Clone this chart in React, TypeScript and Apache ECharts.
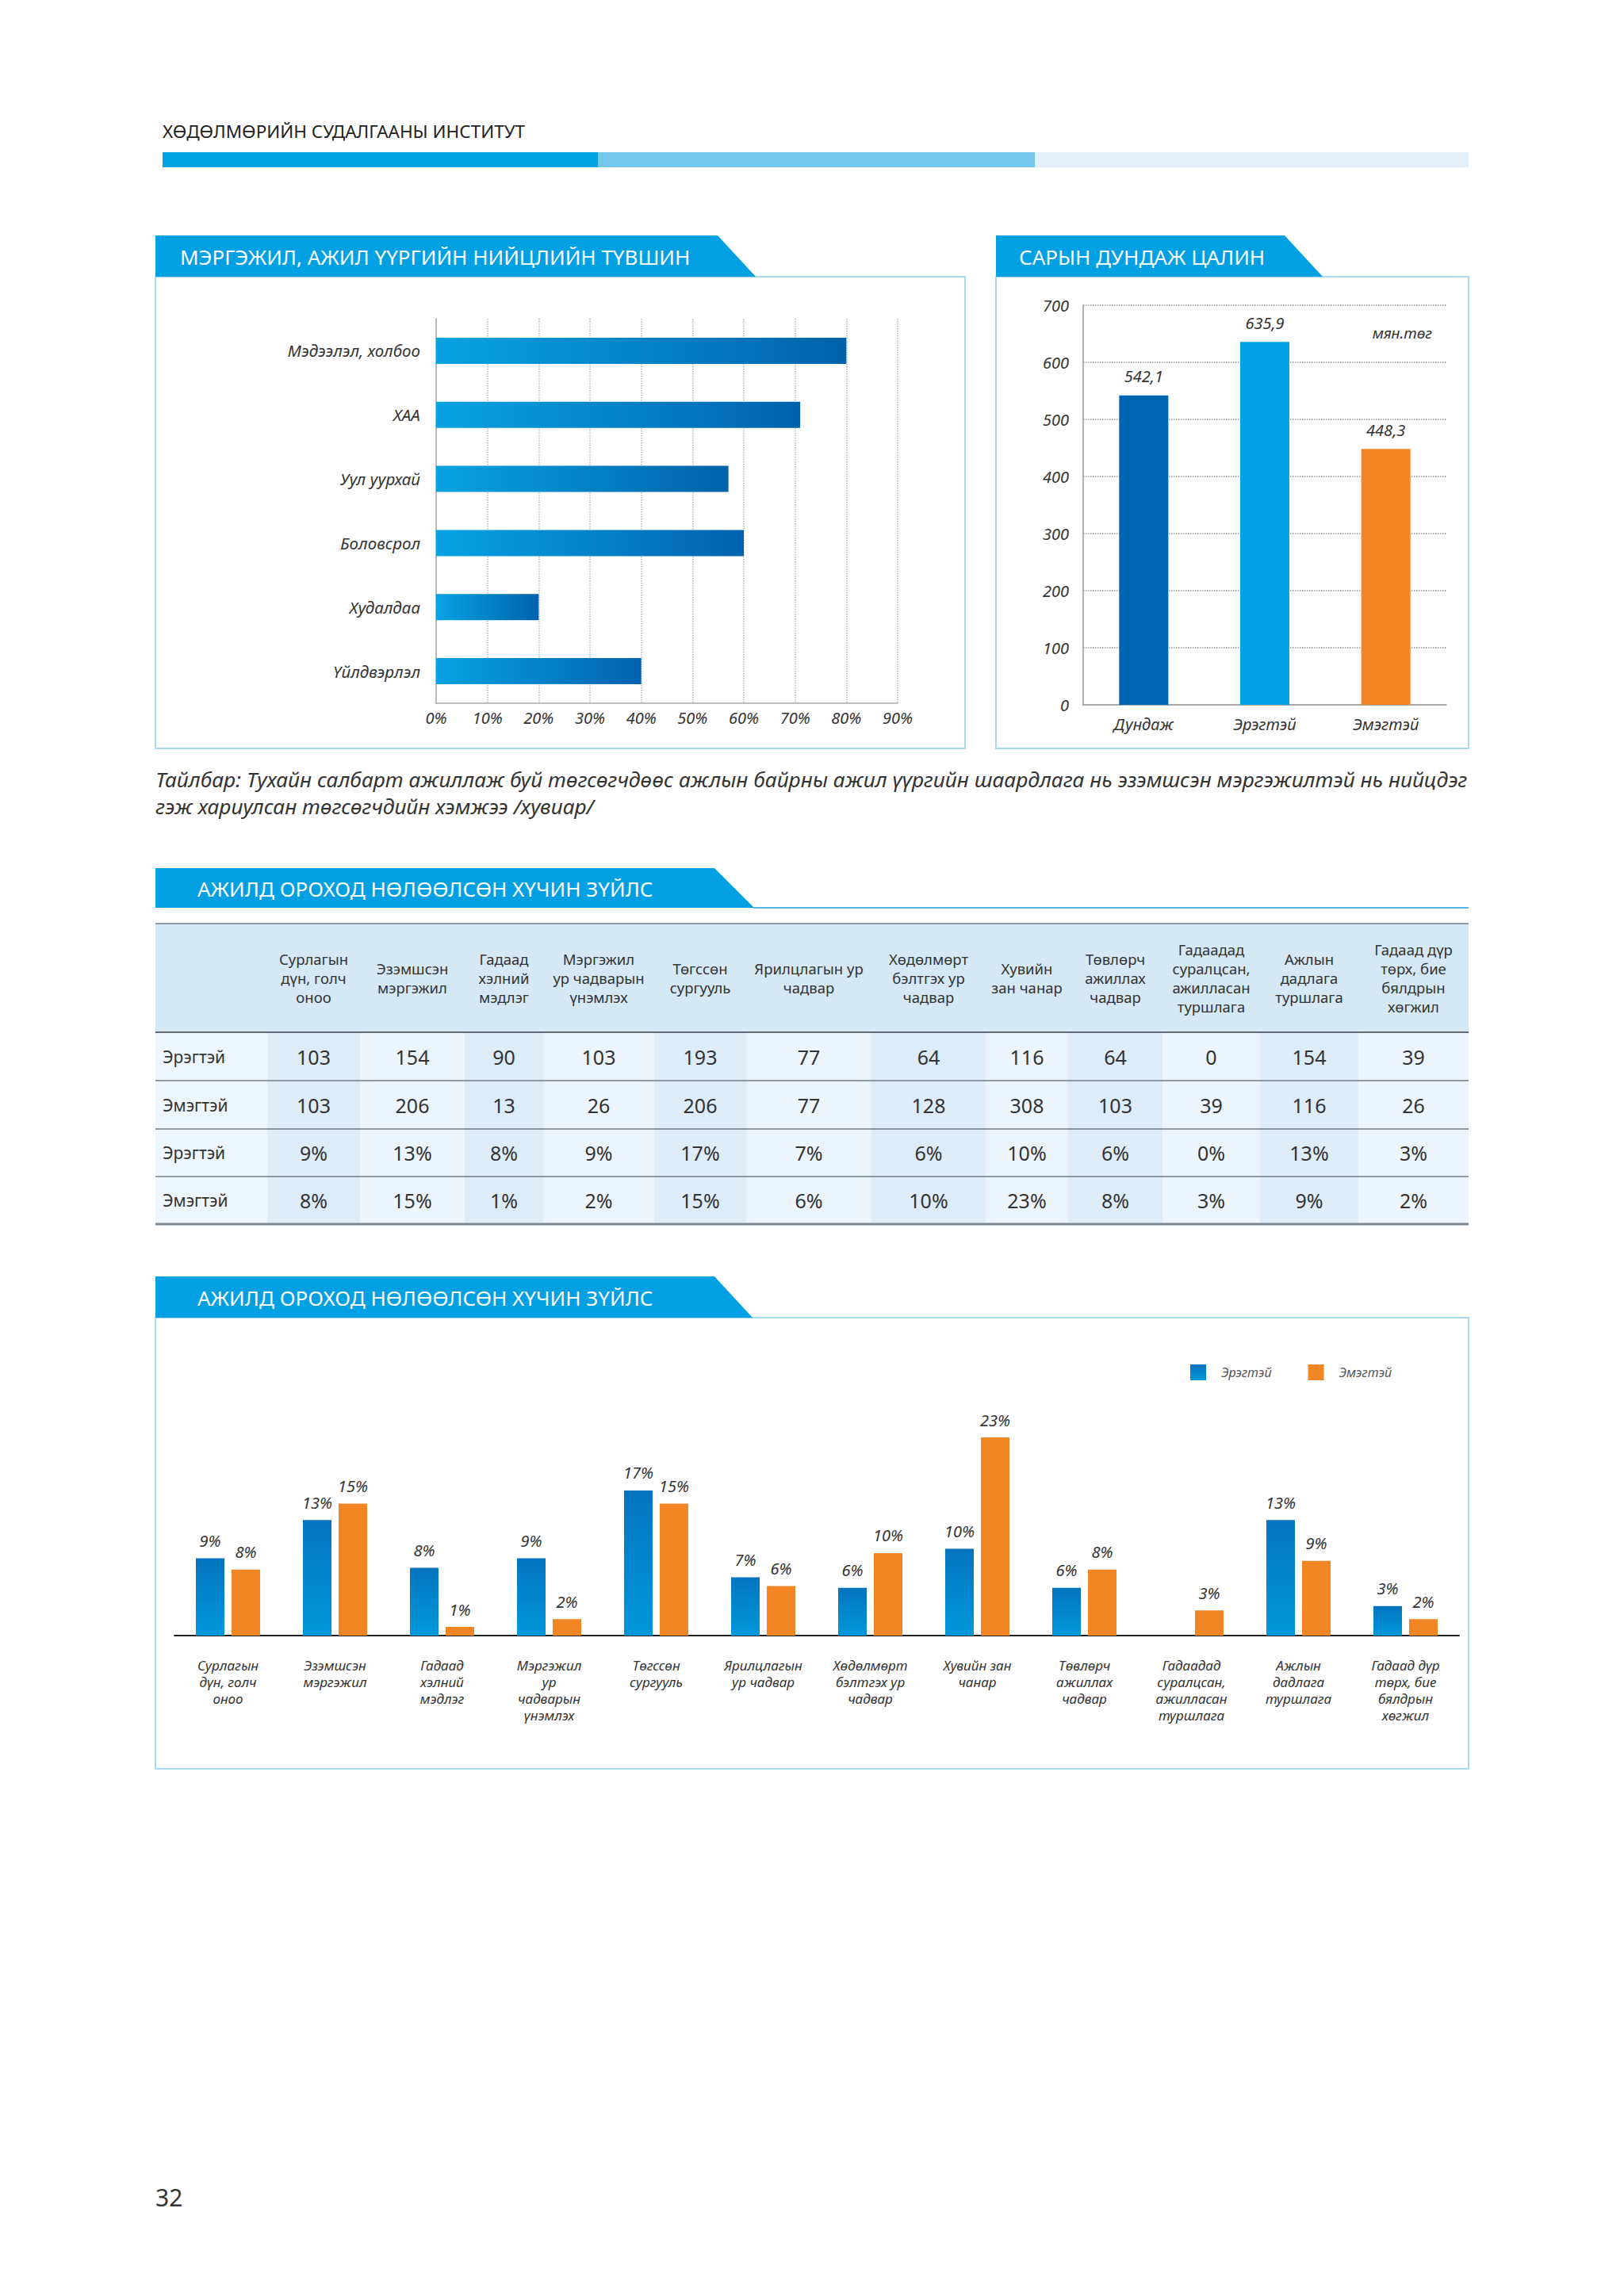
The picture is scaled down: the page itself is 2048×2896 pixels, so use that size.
import React, { useEffect, useRef } from "react";
import * as echarts from "echarts";

const W = 2048;
const H = 2896;
const FONT = '"Noto Sans", "Open Sans", sans-serif';

// ---------- data ----------
const pageHeader = "ХӨДӨЛМӨРИЙН СУДАЛГААНЫ ИНСТИТУТ";
const title1 = "МЭРГЭЖИЛ, АЖИЛ ҮҮРГИЙН НИЙЦЛИЙН ТҮВШИН";
const title2 = "САРЫН ДУНДАЖ ЦАЛИН";
const title3 = "АЖИЛД ОРОХОД НӨЛӨӨЛСӨН ХҮЧИН ЗҮЙЛС";
const footnoteLines = [
  "Тайлбар: Тухайн салбарт ажиллаж буй төгсөгчдөөс ажлын байрны ажил үүргийн шаардлага нь эзэмшсэн мэргэжилтэй нь нийцдэг",
  "гэж хариулсан төгсөгчдийн хэмжээ /хувиар/",
];
const pageNumber = "32";

const sectorCategories = ["Мэдээлэл, холбоо", "ХАА", "Уул уурхай", "Боловсрол", "Худалдаа", "Үйлдвэрлэл"];
const sectorValues = [80, 71, 57, 60, 20, 40];

const wageCategories = ["Дундаж", "Эрэгтэй", "Эмэгтэй"];
const wageValues = [542.1, 635.9, 448.3];
const wageLabels = ["542,1", "635,9", "448,3"];
const wageUnit = "мян.төг";

const tableHeaders = [
  "Сурлагын\nдүн, голч\nоноо",
  "Эзэмшсэн\nмэргэжил",
  "Гадаад\nхэлний\nмэдлэг",
  "Мэргэжил\nур чадварын\nүнэмлэх",
  "Төгссөн\nсургууль",
  "Ярилцлагын ур\nчадвар",
  "Хөдөлмөрт\nбэлтгэх ур\nчадвар",
  "Хувийн\nзан чанар",
  "Төвлөрч\nажиллах\nчадвар",
  "Гадаадад\nсуралцсан,\nажилласан\nтуршлага",
  "Ажлын\nдадлага\nтуршлага",
  "Гадаад дүр\nтөрх, бие\nбялдрын\nхөгжил",
];
const factorAxisLabels = [
  "Сурлагын\nдүн, голч\nоноо",
  "Эзэмшсэн\nмэргэжил",
  "Гадаад\nхэлний\nмэдлэг",
  "Мэргэжил\nур\nчадварын\nүнэмлэх",
  "Төгссөн\nсургууль",
  "Ярилцлагын\nур чадвар",
  "Хөдөлмөрт\nбэлтгэх ур\nчадвар",
  "Хувийн зан\nчанар",
  "Төвлөрч\nажиллах\nчадвар",
  "Гадаадад\nсуралцсан,\nажилласан\nтуршлага",
  "Ажлын\nдадлага\nтуршлага",
  "Гадаад дүр\nтөрх, бие\nбялдрын\nхөгжил",
];
const rowLabels = ["Эрэгтэй", "Эмэгтэй", "Эрэгтэй", "Эмэгтэй"];
const maleCounts = ["103", "154", "90", "103", "193", "77", "64", "116", "64", "0", "154", "39"];
const femaleCounts = ["103", "206", "13", "26", "206", "77", "128", "308", "103", "39", "116", "26"];
const malePctLabels = ["9%", "13%", "8%", "9%", "17%", "7%", "6%", "10%", "6%", "0%", "13%", "3%"];
const femalePctLabels = ["8%", "15%", "1%", "2%", "15%", "6%", "10%", "23%", "8%", "3%", "9%", "2%"];
const malePct = [8.9, 13.3, 7.8, 8.9, 16.7, 6.7, 5.5, 10.0, 5.5, 0, 13.3, 3.4];
const femalePct = [7.6, 15.2, 1.0, 1.9, 15.2, 5.7, 9.5, 22.8, 7.6, 2.9, 8.6, 1.9];
const legendNames = ["Эрэгтэй", "Эмэгтэй"];

// ---------- layout ----------
const BLUE = "#00a0e3";
const BORDER = "#a9d9ec";
const colBounds = [196, 337, 454, 586, 685, 825, 941, 1099, 1243, 1347, 1466, 1589, 1713, 1852];
const rowBounds = [1165, 1302, 1363, 1424, 1484, 1544];
const shadedCols = [0, 2, 4, 6, 8, 10];

function txt(text: string, x: number, y: number, o: any = {}) {
  return {
    type: "text",
    x,
    y,
    z: 10,
    style: {
      text,
      fill: o.fill || "#333",
      fontFamily: FONT,
      fontSize: o.size || 20,
      fontStyle: o.italic ? "italic" : "normal",
      fontWeight: o.weight || "normal",
      align: o.align || "left",
      verticalAlign: o.valign || "middle",
      lineHeight: o.lineHeight,
    },
  };
}

function banner(x: number, y: number, w: number, h: number, slant: number, label: string, pad: number) {
  return [
    {
      type: "polygon",
      z: 5,
      shape: { points: [[x, y], [x + w, y], [x + w + slant, y + h], [x, y + h]] },
      style: { fill: BLUE },
    },
    txt(label, x + pad, y + h / 2 + 1, { fill: "#fff", size: 26 }),
  ];
}

function buildGraphics() {
  const g: any[] = [];
  // page header
  g.push(txt(pageHeader, 205, 165, { size: 22.5, fill: "#222" }));
  g.push({ type: "rect", shape: { x: 205, y: 192, width: 549, height: 19 }, style: { fill: "#00a3e4" } });
  g.push({ type: "rect", shape: { x: 754, y: 192, width: 551, height: 19 }, style: { fill: "#74c6ec" } });
  g.push({ type: "rect", shape: { x: 1305, y: 192, width: 547, height: 19 }, style: { fill: "#e2eef9" } });

  // panel 1 & 2
  g.push({ type: "rect", shape: { x: 196, y: 349, width: 1021, height: 595 }, style: { fill: "none", stroke: BORDER, lineWidth: 2 } });
  g.push(...banner(196, 297, 709, 52, 48, title1, 31));
  g.push({ type: "rect", shape: { x: 1256, y: 349, width: 596, height: 595 }, style: { fill: "none", stroke: BORDER, lineWidth: 2 } });
  g.push(...banner(1256, 297, 364, 52, 48, title2, 29));
  g.push(txt(wageUnit, 1806, 420, { size: 19, italic: true, align: "right" }));

  // footnote
  footnoteLines.forEach((l, i) => g.push(txt(l, 196, 983 + i * 34, { size: 26.3, italic: true, fill: "#333" })));

  // table
  g.push(...banner(196, 1095, 705, 50, 50, title3, 53));
  g.push({ type: "line", shape: { x1: 950, y1: 1145, x2: 1852, y2: 1145 }, style: { stroke: "#55b8e6", lineWidth: 2 } });
  g.push({ type: "rect", shape: { x: 196, y: rowBounds[0], width: 1656, height: rowBounds[1] - rowBounds[0] }, style: { fill: "#d4e8f6" } });
  for (let c = 0; c < colBounds.length - 1; c++) {
    const dataCol = c - 1;
    const fill = c === 0 ? "#eef6fd" : shadedCols.includes(dataCol) ? "#dcecf9" : "#ecf5fc";
    g.push({
      type: "rect",
      shape: { x: colBounds[c], y: rowBounds[1], width: colBounds[c + 1] - colBounds[c], height: rowBounds[5] - rowBounds[1] },
      style: { fill },
    });
  }
  g.push({ type: "line", shape: { x1: 196, y1: rowBounds[0], x2: 1852, y2: rowBounds[0] }, style: { stroke: "#8f9ba6", lineWidth: 2 } });
  g.push({ type: "line", shape: { x1: 196, y1: rowBounds[1], x2: 1852, y2: rowBounds[1] }, style: { stroke: "#5f6b76", lineWidth: 2 } });
  for (let r = 2; r <= 4; r++) {
    g.push({ type: "line", shape: { x1: 196, y1: rowBounds[r], x2: 1852, y2: rowBounds[r] }, style: { stroke: "#6f7b87", lineWidth: 1.5 } });
  }
  g.push({ type: "line", shape: { x1: 196, y1: rowBounds[5], x2: 1852, y2: rowBounds[5] }, style: { stroke: "#7d8892", lineWidth: 3 } });

  const rows = [maleCounts, femaleCounts, malePctLabels, femalePctLabels];
  tableHeaders.forEach((h, i) => {
    const cx = (colBounds[i + 1] + colBounds[i + 2]) / 2;
    g.push(txt(h, cx, (rowBounds[0] + rowBounds[1]) / 2, { size: 18.5, align: "center", lineHeight: 24 }));
  });
  rows.forEach((row, r) => {
    const cy = (rowBounds[r + 1] + rowBounds[r + 2]) / 2;
    g.push(txt(rowLabels[r], 205, cy, { size: 21 }));
    row.forEach((v, i) => {
      const cx = (colBounds[i + 1] + colBounds[i + 2]) / 2;
      g.push(txt(v, cx, cy, { size: 25, align: "center" }));
    });
  });

  // panel 3
  g.push({ type: "rect", shape: { x: 196, y: 1662, width: 1656, height: 569 }, style: { fill: "none", stroke: BORDER, lineWidth: 2 } });
  g.push(...banner(196, 1610, 705, 52, 48, title3, 53));

  // page number
  g.push(txt(pageNumber, 196, 2771, { size: 30, fill: "#333" }));
  return g;
}

function buildOption(): any {
  const hGrad = new echarts.graphic.LinearGradient(0, 0, 1, 0, [
    { offset: 0, color: "#08a3e2" },
    { offset: 1, color: "#0062ad" },
  ]);
  const maleGrad = new echarts.graphic.LinearGradient(0, 0, 0, 1, [
    { offset: 0, color: "#0574bf" },
    { offset: 1, color: "#0098db" },
  ]);
  const wageColors = ["#0066b3", "#00a1e4", "#f38423"];
  const italic = { fontFamily: FONT, fontStyle: "italic", color: "#333" };

  return {
    animation: false,
    backgroundColor: "#ffffff",
    textStyle: { fontFamily: FONT },
    graphic: { elements: buildGraphics() },
    legend: {
      data: legendNames,
      left: 1501,
      top: 1721,
      padding: 0,
      itemWidth: 20,
      itemHeight: 20,
      itemGap: 46,
      icon: "rect",
      textStyle: { ...italic, fontSize: 16, color: "#555", padding: [0, 0, 0, 14] },
    },
    grid: [
      { left: 550, top: 402, width: 582, height: 485 },
      { left: 1366, top: 385, width: 458, height: 504 },
      { left: 220, top: 1789, width: 1620, height: 274 },
    ],
    xAxis: [
      {
        type: "value",
        gridIndex: 0,
        min: 0,
        max: 90,
        interval: 10,
        axisLine: { show: true, lineStyle: { color: "#aaaaaa", width: 1.5 } },
        axisTick: { show: false },
        axisLabel: { ...italic, fontSize: 20, margin: 8, formatter: "{value}%" },
        splitLine: { show: true, lineStyle: { type: "dotted", color: "#b8b8b8", width: 1.5 } },
      },
      {
        type: "category",
        gridIndex: 1,
        data: wageCategories,
        axisLine: { show: true, lineStyle: { color: "#999999", width: 1.5 } },
        axisTick: { show: false },
        axisLabel: { ...italic, fontSize: 20, margin: 14 },
      },
      {
        type: "category",
        gridIndex: 2,
        data: factorAxisLabels,
        axisLine: { show: true, lineStyle: { color: "#222222", width: 2 } },
        axisTick: { show: false },
        axisLabel: { ...italic, fontSize: 17, lineHeight: 21, margin: 27, interval: 0 },
      },
    ],
    yAxis: [
      {
        type: "category",
        gridIndex: 0,
        data: sectorCategories,
        inverse: true,
        axisLine: { show: true, lineStyle: { color: "#aaaaaa", width: 1.5 } },
        axisTick: { show: false },
        axisLabel: { ...italic, fontSize: 20.5, margin: 20 },
      },
      {
        type: "value",
        gridIndex: 1,
        min: 0,
        max: 700,
        interval: 100,
        axisLine: { show: true, lineStyle: { color: "#999999", width: 1.5 } },
        axisTick: { show: false },
        axisLabel: { ...italic, fontSize: 20, margin: 18 },
        splitLine: { show: true, lineStyle: { type: "dotted", color: "#999999", width: 1.5 } },
      },
      { type: "value", gridIndex: 2, min: 0, max: 25, show: false },
    ],
    series: [
      {
        type: "bar",
        name: "Нийцэл",
        xAxisIndex: 0,
        yAxisIndex: 0,
        data: sectorValues,
        barWidth: 33,
        itemStyle: { color: hGrad },
      },
      {
        type: "bar",
        name: "Цалин",
        xAxisIndex: 1,
        yAxisIndex: 1,
        barWidth: 62,
        data: wageValues.map((v, i) => ({ value: v, itemStyle: { color: wageColors[i] } })),
        label: {
          show: true,
          position: "top",
          distance: 14,
          ...italic,
          fontSize: 20,
          formatter: (p: any) => wageLabels[p.dataIndex],
        },
      },
      {
        type: "bar",
        name: legendNames[0],
        xAxisIndex: 2,
        yAxisIndex: 2,
        data: malePct,
        barWidth: 36,
        barGap: "25%",
        itemStyle: { color: maleGrad },
        label: {
          show: true,
          position: "top",
          distance: 12,
          ...italic,
          fontSize: 20,
          formatter: (p: any) => (malePct[p.dataIndex] === 0 ? "" : malePctLabels[p.dataIndex]),
        },
      },
      {
        type: "bar",
        name: legendNames[1],
        xAxisIndex: 2,
        yAxisIndex: 2,
        data: femalePct,
        barWidth: 36,
        barGap: "25%",
        itemStyle: { color: "#f28524" },
        label: {
          show: true,
          position: "top",
          distance: 12,
          ...italic,
          fontSize: 20,
          formatter: (p: any) => femalePctLabels[p.dataIndex],
        },
      },
    ],
  };
}

export default function App() {
  const ref = useRef<HTMLDivElement>(null);
  useEffect(() => {
    document.body.style.margin = "0";
    const chart = echarts.init(ref.current as HTMLDivElement, null, { renderer: "svg" });
    chart.setOption(buildOption());
    return () => chart.dispose();
  }, []);
  return <div ref={ref} style={{ width: W, height: H, background: "#ffffff" }} />;
}
